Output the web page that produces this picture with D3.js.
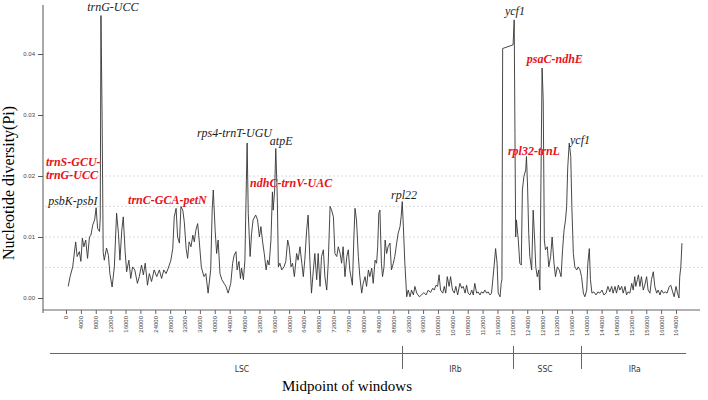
<!DOCTYPE html>
<html>
<head>
<meta charset="utf-8">
<script src="https://cdn.jsdelivr.net/npm/d3@7"></script>
<style>
	body { margin: 0; background: #fff; }
	.chart svg { display: block; }
</style>
</head>
<body>
<div class="chart"></div>
<script>
// window midpoints (bp) and nucleotide diversity
const positions = [
	600, 1100, 1800, 2600, 3000, 3600, 4000, 4400, 4800, 5300, 5800, 6300, 6700, 7200, 7700, 8100, 8500, 9000, 9200, 9400,
	9700, 10000, 10300, 10900, 11400, 11800, 12400, 13000, 13600, 14100, 14500, 15000, 15400, 15900, 16300, 16900, 17400, 17900, 18500, 19200,
	19700, 20300, 20800, 21300, 21900, 22400, 23000, 23700, 24400, 25100, 25700, 26300, 26900, 27500, 28200, 28700, 29100, 29600, 30000, 30500,
	30900, 31400, 31800, 32300, 32700, 33100, 33600, 34100, 34500, 34900, 35400, 35800, 36400, 37100, 37600, 38200, 38900, 39300, 39600, 40100,
	40500, 40900, 41400, 41900, 42500, 43000, 43600, 44300, 44800, 45200, 45700, 46000, 46500, 46900, 47200, 47700, 48100, 48500, 48700, 49000,
	49500, 49900, 50300, 51000, 51500, 52000, 52400, 52900, 53300, 53800, 54200, 54600, 55100, 55500, 55700, 56100, 56400, 56800, 57100, 57500,
	58000, 58600, 59100, 59600, 60000, 60500, 60900, 61400, 62000, 62400, 62900, 63400, 63800, 64200, 64700, 65100, 65600, 66000, 66500, 66900,
	67400, 67800, 68300, 68700, 69200, 69600, 70100, 70500, 71000, 71400, 71900, 72300, 72800, 73200, 73700, 74100, 74500, 75000, 75500, 75900,
	76300, 77000, 77400, 77700, 78100, 78600, 79000, 79500, 79900, 80400, 80800, 81300, 81700, 82200, 82600, 83100, 83500, 83800, 84100, 84400,
	84800, 85100, 85500, 85800, 86200, 86600, 87100, 87500, 88000, 88400, 88900, 89300, 89800, 90100, 90400, 90700, 91100, 91600, 92000, 92500,
	92900, 93400, 93800, 94300, 95000, 95600, 96200, 96800, 97400, 98000, 98600, 99000, 99500, 99900, 100300, 100700, 101300, 101700, 102100, 102500,
	103000, 103400, 103900, 104400, 104800, 105300, 105900, 106400, 106800, 107300, 107700, 108100, 108600, 109100, 109500, 109900, 110400, 110800, 111300, 111700,
	112200, 112600, 113100, 113500, 114000, 114400, 115000, 115500, 115900, 116200, 116700, 117000, 117200, 117400, 120200, 120500, 120700, 120900, 121100, 121600,
	122000, 122400, 122700, 123100, 123600, 123800, 124100, 124400, 124700, 125200, 125600, 126000, 126300, 126700, 127100, 127400, 127800, 128000, 128300, 128600,
	128900, 129400, 129800, 130300, 130700, 131200, 131600, 132100, 132600, 133100, 133500, 133900, 134300, 134600, 134900, 135300, 135700, 136000, 136400, 136800,
	137300, 137700, 138200, 138600, 139100, 139500, 140000, 140300, 140700, 141000, 141400, 141900, 142500, 143000, 143500, 144100, 144600, 145200, 145700, 146200,
	146700, 147100, 147600, 148000, 148500, 148900, 149400, 149800, 150300, 150700, 151100, 151600, 152100, 152500, 152900, 153200, 153600, 153900, 154300, 154700,
	155200, 155600, 156100, 156500, 157000, 157400, 157900, 158300, 158800, 159200, 159700, 160100, 160600, 161100, 161600, 162200, 162600, 163100, 163500, 164000,
	164400, 164800, 165000, 165300, 165600
];
const piValues = [
	.0019, .0035, .0051, .0092, .0068, .0076, .0060, .0098, .0084, .0095, .0065, .0100, .0103, .0120, .0128, .0148, .0114, .0109, .0130, .0463,
	.0300, .0075, .0062, .0082, .0070, .0040, .0018, .0051, .0139, .0106, .0062, .0111, .0133, .0076, .0043, .0062, .0032, .0051, .0046, .0024,
	.0035, .0054, .0038, .0057, .0021, .0040, .0027, .0046, .0035, .0046, .0032, .0046, .0040, .0049, .0062, .0081, .0133, .0147, .0100, .0090,
	.0150, .0144, .0125, .0081, .0065, .0092, .0084, .0103, .0092, .0111, .0122, .0095, .0050, .0035, .0040, .0008, .0046, .0144, .0177, .0111,
	.0073, .0095, .0040, .0030, .0024, .0019, .0008, .0024, .0057, .0070, .0076, .0046, .0060, .0032, .0049, .0030, .0062, .0193, .0254, .0139,
	.0068, .0106, .0128, .0136, .0128, .0100, .0117, .0090, .0073, .0046, .0062, .0054, .0095, .0174, .0144, .0177, .0245, .0166, .0051, .0057,
	.0046, .0051, .0060, .0095, .0084, .0051, .0057, .0035, .0073, .0062, .0084, .0057, .0035, .0062, .0111, .0136, .0057, .0008, .0046, .0073,
	.0030, .0073, .0019, .0068, .0079, .0035, .0013, .0057, .0150, .0144, .0133, .0073, .0068, .0084, .0073, .0057, .0084, .0035, .0068, .0079,
	.0046, .0021, .0100, .0147, .0128, .0068, .0035, .0008, .0024, .0035, .0019, .0046, .0035, .0049, .0024, .0062, .0057, .0084, .0139, .0144,
	.0057, .0035, .0051, .0095, .0073, .0084, .0090, .0046, .0057, .0068, .0090, .0106, .0117, .0133, .0158, .0117, .0057, .0002, .0013, .0002,
	.0013, .0005, .0019, .0008, .0002, .0005, .0009, .0005, .0013, .0009, .0016, .0013, .0021, .0019, .0038, .0013, .0008, .0019, .0008, .0035,
	.0019, .0035, .0013, .0008, .0019, .0005, .0024, .0016, .0019, .0008, .0021, .0008, .0005, .0013, .0005, .0024, .0008, .0010, .0005, .0010,
	.0008, .0013, .0008, .0010, .0005, .0008, .0046, .0081, .0057, .0008, .0002, .0024, .0030, .0409, .0415, .0456, .0270, .0100, .0128, .0095,
	.0057, .0054, .0177, .0199, .0210, .0232, .0182, .0106, .0068, .0046, .0144, .0095, .0051, .0035, .0046, .0013, .0259, .0377, .0325, .0095,
	.0079, .0084, .0051, .0068, .0100, .0057, .0035, .0051, .0046, .0035, .0079, .0111, .0128, .0150, .0215, .0254, .0232, .0150, .0073, .0051,
	.0046, .0051, .0046, .0035, .0008, .0002, .0013, .0057, .0081, .0030, .0008, .0010, .0005, .0010, .0008, .0013, .0005, .0008, .0019, .0010,
	.0019, .0008, .0019, .0008, .0021, .0013, .0019, .0008, .0019, .0005, .0010, .0008, .0024, .0013, .0035, .0019, .0030, .0038, .0019, .0035,
	.0013, .0021, .0035, .0013, .0008, .0030, .0043, .0019, .0008, .0013, .0005, .0013, .0008, .0010, .0008, .0019, .0021, .0010, .0002, .0019,
	.0008, .0000, .0035, .0051, .0090
];

const yTicks = [0, 0.01, 0.02, 0.03, 0.04];
const gridLines = [0.005, 0.01, 0.015, 0.02];
const xTicks = d3.range(0, 164001, 4000);

// genome regions
const regionNames = ["LSC", "IRb", "SSC", "IRa"];
const regionBreaks = [90300, 120200, 138400];
const regionLabelAt = [47300, 104700, 128800, 152900];
const regionSpan = [-4300, 166700];

// hotspot labels: text, anchor (bp, Pi), highlighted
const labelTexts = ["trnG-UCC", "trnS-GCU-", "trnG-UCC", "psbK-psbI", "trnC-GCA-petN", "rps4-trnT-UGU", "atpE",
	"ndhC-trnV-UAC", "rpl22", "ycf1", "psaC-ndhE", "rpl32-trnL", "ycf1"];
const labelPos = [12600, -5400, -5400, -4800, 16700, 35200, 54800, 49500, 87400, 118000, 123900, 118800, 135500];
const labelPi = [.0471, .0217, .0195, .0152, .0154, .0264, .0251, .0182, .0162, .0464, .0385, .0234, .0252];
const labelRed = [false, true, true, false, true, false, false, true, false, false, true, true, false];

const width = 708;
const height = 400;

const svg = d3.select(".chart")
	.append("svg")
	.attr("width", width)
	.attr("height", height);

const x = d3.scaleLinear().domain([0, 164000]).range([66, 676]);
const y = d3.scaleLinear().domain([0, 0.04]).range([298, 54]);

// dashed grid
svg.append("g")
	.selectAll("line")
	.data(gridLines)
	.enter()
	.append("line")
		.attr("x1", 45)
		.attr("x2", 705)
		.attr("y1", (d) => y(d))
		.attr("y2", (d) => y(d))
		.attr("stroke", "#d6d6d6")
		.attr("stroke-width", 0.8)
		.attr("stroke-dasharray", "2,2");

// y axis
const yAxis = svg.append("g")
	.attr("transform", "translate(43,0)")
	.call(d3.axisLeft(y).tickValues(yTicks).tickFormat(d3.format(".2f")).tickSize(5).tickPadding(3));
yAxis.select(".domain").remove();
yAxis.append("line")
	.attr("y1", 5)
	.attr("y2", 313)
	.attr("stroke", "#555");
yAxis.selectAll(".tick line").attr("stroke", "#555");
yAxis.selectAll("text")
	.attr("fill", "#444")
	.style("font", "6px 'Liberation Sans', Arial, sans-serif");

// x axis
const xAxis = svg.append("g")
	.attr("transform", "translate(0,310)")
	.call(d3.axisBottom(x).tickValues(xTicks).tickFormat(d3.format("d")).tickSize(4));
xAxis.select(".domain").remove();
xAxis.append("line")
	.attr("x1", 43)
	.attr("x2", 700)
	.attr("stroke", "#666");
xAxis.selectAll(".tick line").attr("stroke", "#666");
xAxis.selectAll("text")
	.attr("transform", "rotate(-90)")
	.attr("x", -6)
	.attr("y", 0)
	.attr("dy", "0.32em")
	.attr("text-anchor", "end")
	.attr("fill", "#444")
	.style("font", "6px 'Liberation Sans', Arial, sans-serif");

// diversity line
const points = positions.map((p, i) => [p, piValues[i]]);
const line = d3.line()
	.x((d) => x(d[0]))
	.y((d) => y(d[1]));

svg.append("path")
	.datum(points)
	.attr("d", line)
	.attr("fill", "none")
	.attr("stroke", "#333")
	.attr("stroke-width", 0.9)
	.attr("stroke-linejoin", "round");

// region bar
const regions = svg.append("g");
regions.append("line")
	.attr("x1", x(regionSpan[0]))
	.attr("x2", x(regionSpan[1]))
	.attr("y1", 353.5)
	.attr("y2", 353.5)
	.attr("stroke", "#666");
regions.selectAll(".brk")
	.data(regionBreaks)
	.enter()
	.append("line")
		.attr("class", "brk")
		.attr("x1", (d) => Math.round(x(d)) + 0.5)
		.attr("x2", (d) => Math.round(x(d)) + 0.5)
		.attr("y1", 346)
		.attr("y2", 369)
		.attr("stroke", "#666");
regions.selectAll("text")
	.data(regionNames)
	.enter()
	.append("text")
		.attr("x", (d, i) => x(regionLabelAt[i]))
		.attr("y", 372)
		.attr("text-anchor", "middle")
		.attr("fill", "#333")
		.style("font-family", "'DejaVu Sans', sans-serif")
		.style("font-stretch", "condensed")
		.style("font-size", "8.5px")
		.text((d) => d);

// axis titles
svg.append("text")
	.attr("x", 347)
	.attr("y", 391)
	.attr("text-anchor", "middle")
	.style("font", "15px 'Liberation Serif', 'Times New Roman', serif")
	.text("Midpoint of windows");

svg.append("text")
	.attr("transform", "translate(14,183) rotate(-90)")
	.attr("text-anchor", "middle")
	.style("font", "16px 'Liberation Serif', 'Times New Roman', serif")
	.text("Nucleotide diversity(Pi)");

// hotspot annotations
svg.append("g")
	.selectAll("text")
	.data(labelTexts)
	.enter()
	.append("text")
		.attr("x", (d, i) => x(labelPos[i]))
		.attr("y", (d, i) => y(labelPi[i]))
		.attr("text-anchor", (d, i) => i === 0 ? "middle" : "start")
		.attr("fill", (d, i) => labelRed[i] ? "#e8121b" : "#222")
		.style("font-family", "'Liberation Serif', 'Times New Roman', serif")
		.style("font-style", "italic")
		.style("font-weight", (d, i) => labelRed[i] ? "bold" : "normal")
		.style("font-size", "12px")
		.text((d) => d);
</script>
</body>
</html>
